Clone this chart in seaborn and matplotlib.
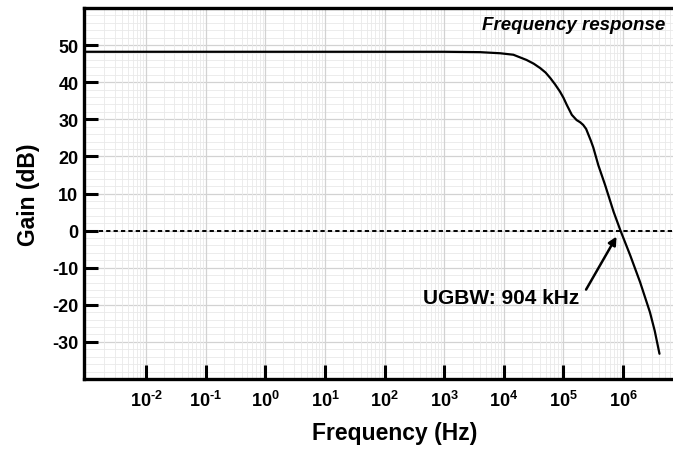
import numpy as np
import pandas as pd
import matplotlib
matplotlib.use("Agg")
import matplotlib.pyplot as plt
import seaborn as sns
from matplotlib.ticker import LogLocator, MultipleLocator, FixedLocator, FuncFormatter, NullFormatter

# ---- data ----
log_freq = [-3.04, 0.0, 3.0, 3.6, 3.94, 4.16, 4.38, 4.5, 4.61, 4.7, 4.78,
            4.86, 4.94, 5.0, 5.055, 5.14, 5.22, 5.28, 5.33, 5.38, 5.42, 5.46, 5.50,
            5.585, 5.70, 5.84, 5.956, 6.12, 6.285, 6.45, 6.53, 6.61]
gain_db = [48.2, 48.2, 48.2, 48.1, 47.8, 47.4, 46.0, 45.0, 43.8, 42.6, 41.1,
           39.4, 37.5, 35.8, 33.9, 31.2, 29.8, 29.2, 28.5, 27.4, 25.8, 24.2, 22.4,
           17.6, 12.2, 5.1, 0.0, -6.7, -13.9, -22.0, -27.0, -33.2]
xtick_exp = [-2, -1, 0, 1, 2, 3, 4, 5, 6]
ytick_vals = [-30, -20, -10, 0, 10, 20, 30, 40, 50]
ugbw_khz = 904

freq = [10 ** v for v in log_freq]
df = pd.DataFrame({"Frequency (Hz)": freq, "Gain (dB)": gain_db})

sns.set_style("white")
plt.rcParams['font.family'] = ['Liberation Sans', 'DejaVu Sans']
plt.rcParams['font.weight'] = 'bold'
plt.rcParams['text.color'] = 'black'
plt.rcParams['axes.labelcolor'] = 'black'
plt.rcParams['xtick.color'] = 'black'
plt.rcParams['ytick.color'] = 'black'
plt.rcParams['mathtext.fontset'] = 'custom'
plt.rcParams['mathtext.rm'] = 'Liberation Sans:bold'
plt.rcParams['mathtext.it'] = 'Liberation Sans:bold'
plt.rcParams['mathtext.bf'] = 'Liberation Sans:bold'
plt.rcParams['axes.unicode_minus'] = False

fig = plt.figure(figsize=(6.73, 4.52), dpi=100)
W, H = 673, 452
ax = fig.add_axes([84 / W, (H - 380) / H, (706 - 84) / W, (380 - 9) / H])

ax.set_xscale("log")
ax.set_xlim(10 ** -3.04, 10 ** 7.39)
ax.set_ylim(-40, 60)

# grid
ax.xaxis.set_major_locator(FixedLocator([10.0 ** e for e in xtick_exp]))
ax.xaxis.set_minor_locator(LogLocator(base=10, subs=np.arange(2, 10), numticks=40))
ax.yaxis.set_major_locator(FixedLocator(ytick_vals))
ax.yaxis.set_minor_locator(MultipleLocator(2))
ax.grid(which="major", color="#d2d2d2", lw=0.9)
ax.grid(which="minor", color="#e9e9e9", lw=0.6)
ax.set_axisbelow(True)
ax.xaxis.set_zorder(0.6)
ax.yaxis.set_zorder(0.5)

sns.lineplot(data=df, x="Frequency (Hz)", y="Gain (dB)", color="black", lw=1.6, ax=ax, zorder=3)
ax.axhline(0, color="black", lw=1.4, ls=(0, (2.2, 1.6)), zorder=2)

def xfmt(v, pos):
    e = int(round(np.log10(v)))
    return r"$10^{\text{%d}}$" % e
ax.xaxis.set_major_formatter(FuncFormatter(xfmt))
ax.xaxis.set_minor_formatter(NullFormatter())

ax.tick_params(axis="both", which="major", direction="in", length=10, width=2.2,
               color="black", labelsize=13, bottom=True, left=True, top=False, right=False)
ax.tick_params(axis="x", which="major", pad=8)
ax.tick_params(axis="y", which="major", pad=4)
ax.tick_params(which="minor", length=0)

for s in ["left", "bottom", "top"]:
    ax.spines[s].set_linewidth(2.4)
    ax.spines[s].set_color("black")
ax.spines["right"].set_visible(False)

ax.set_xlabel("Frequency (Hz)", fontsize=16.5, fontweight="bold", labelpad=8)
ax.set_ylabel("Gain (dB)", fontsize=16.5, fontweight="bold", labelpad=9)

fig.text(665 / W, 1 - 26 / H, "Frequency response", fontsize=13.5, fontweight="bold",
         fontstyle="italic", ha="right", va="center")

ax.text(10 ** 5.262, -18.1, "UGBW: %d kHz" % ugbw_khz, fontsize=15, fontweight="bold",
        ha="right", va="center")
ax.annotate("", xy=(10 ** 5.89, -1.6), xytext=(10 ** 5.379, -15.9),
            arrowprops=dict(arrowstyle="-|>", color="black", lw=1.8,
                            mutation_scale=12, shrinkA=0, shrinkB=0))

fig.savefig("out.png", dpi=100)
